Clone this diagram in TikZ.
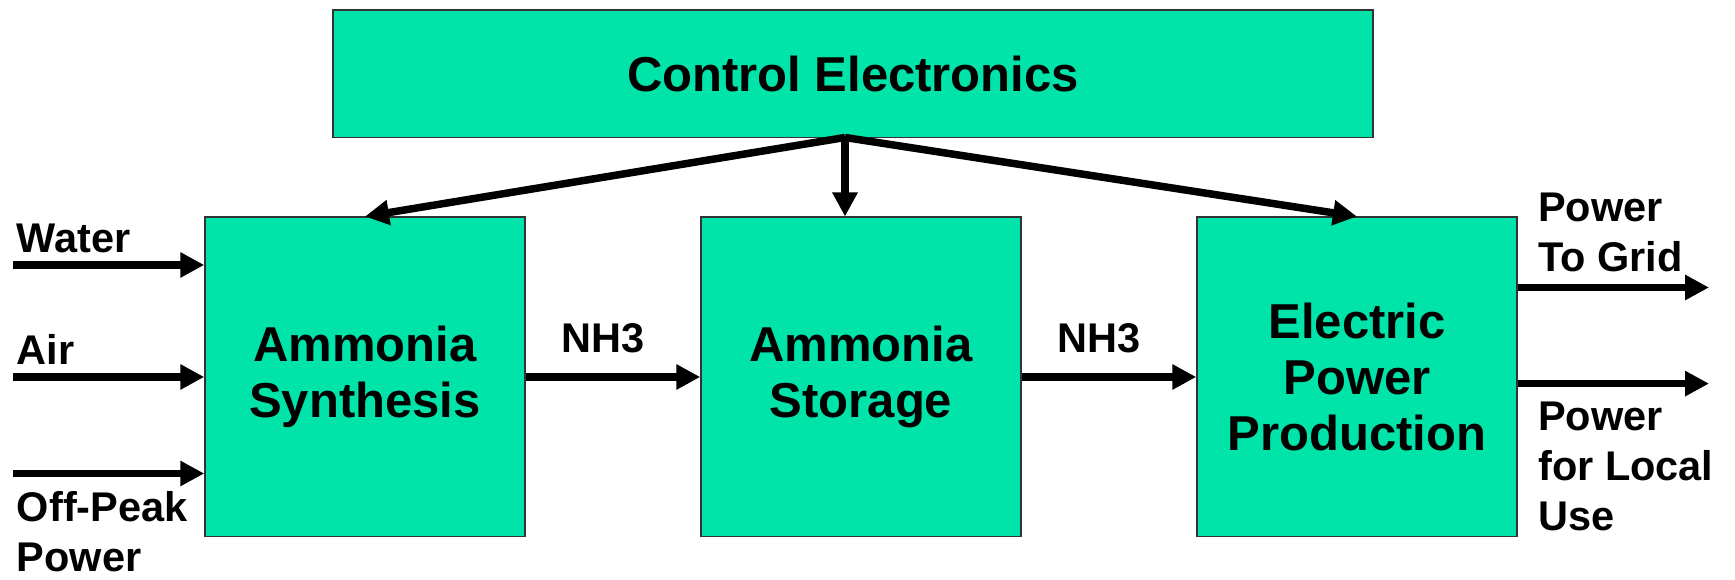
\documentclass[tikz,border=0pt]{standalone}
\usepackage{fontspec}
\setmainfont{Liberation Sans}
\usepackage{xcolor}
\usepackage{tikz}
\usetikzlibrary{arrows.meta,positioning}
\definecolor{boxgreen}{RGB}{0,228,170}

\begin{document}
\begin{tikzpicture}[x=1pt,y=1pt,
  block/.style={draw=black!80,line width=1.5pt,fill=boxgreen,minimum width=320pt,minimum height=319.5pt,align=center,font=\fontsize{49}{56}\selectfont\bfseries},
  flow/.style={line width=7.5pt,-{Triangle[length=24pt,width=24pt]}},
  lbl/.style={inner sep=0pt,align=left,font=\fontsize{41.5}{50}\selectfont\bfseries}]
\useasboundingbox (0,0) rectangle (1735,580);
\node[block,minimum width=1040pt,minimum height=127.5pt] (control) at (853,506.25) {Control Electronics};
\node[block] (synth) at (365,203) {Ammonia\\Synthesis};
\node[block] (storage) at (861,203) {Ammonia\\Storage};
\node[block] (power) at (1357,203) {Electric\\Power\\Production};

\coordinate (hub) at (845,442.5);
\draw[flow] (hub) -- (synth.north);
\draw[flow] (hub) -- (hub |- storage.north);
\draw[flow] (hub) -- (power.north);

\coordinate (water) at (13,315);
\coordinate (air) at (13,203);
\coordinate (offpeak) at (13,106.5);
\draw[flow] (water) -- (water -| synth.west);
\draw[flow] (air) -- (synth.west);
\draw[flow] (offpeak) -- (offpeak -| synth.west);
\node[lbl,anchor=base west] (waterlbl) at (16.7,327) {Water};
\node[lbl,anchor=base west] (airlbl) at (16.7,215.6) {Air};
\node[lbl,anchor=base west] (offpeaklbl) at (16.7,8) {Off-Peak\\Power};

\draw[flow] (synth) -- (storage) node[lbl,midway,above=20pt,xshift=-10pt] {NH3};
\draw[flow] (storage) -- (power) node[lbl,midway,above=20pt,xshift=-10pt] {NH3};

\coordinate (grid) at (1709,292.5);
\coordinate (local) at (1709,196.4);
\draw[flow] (grid -| power.east) -- (grid);
\draw[flow] (local -| power.east) -- (local);
\node[lbl,anchor=base west] (gridlbl) at (1538,308) {Power\\To Grid};
\node[lbl,anchor=base west] (locallbl) at (1538,49) {Power\\for Local\\Use};
\end{tikzpicture}
\end{document}
